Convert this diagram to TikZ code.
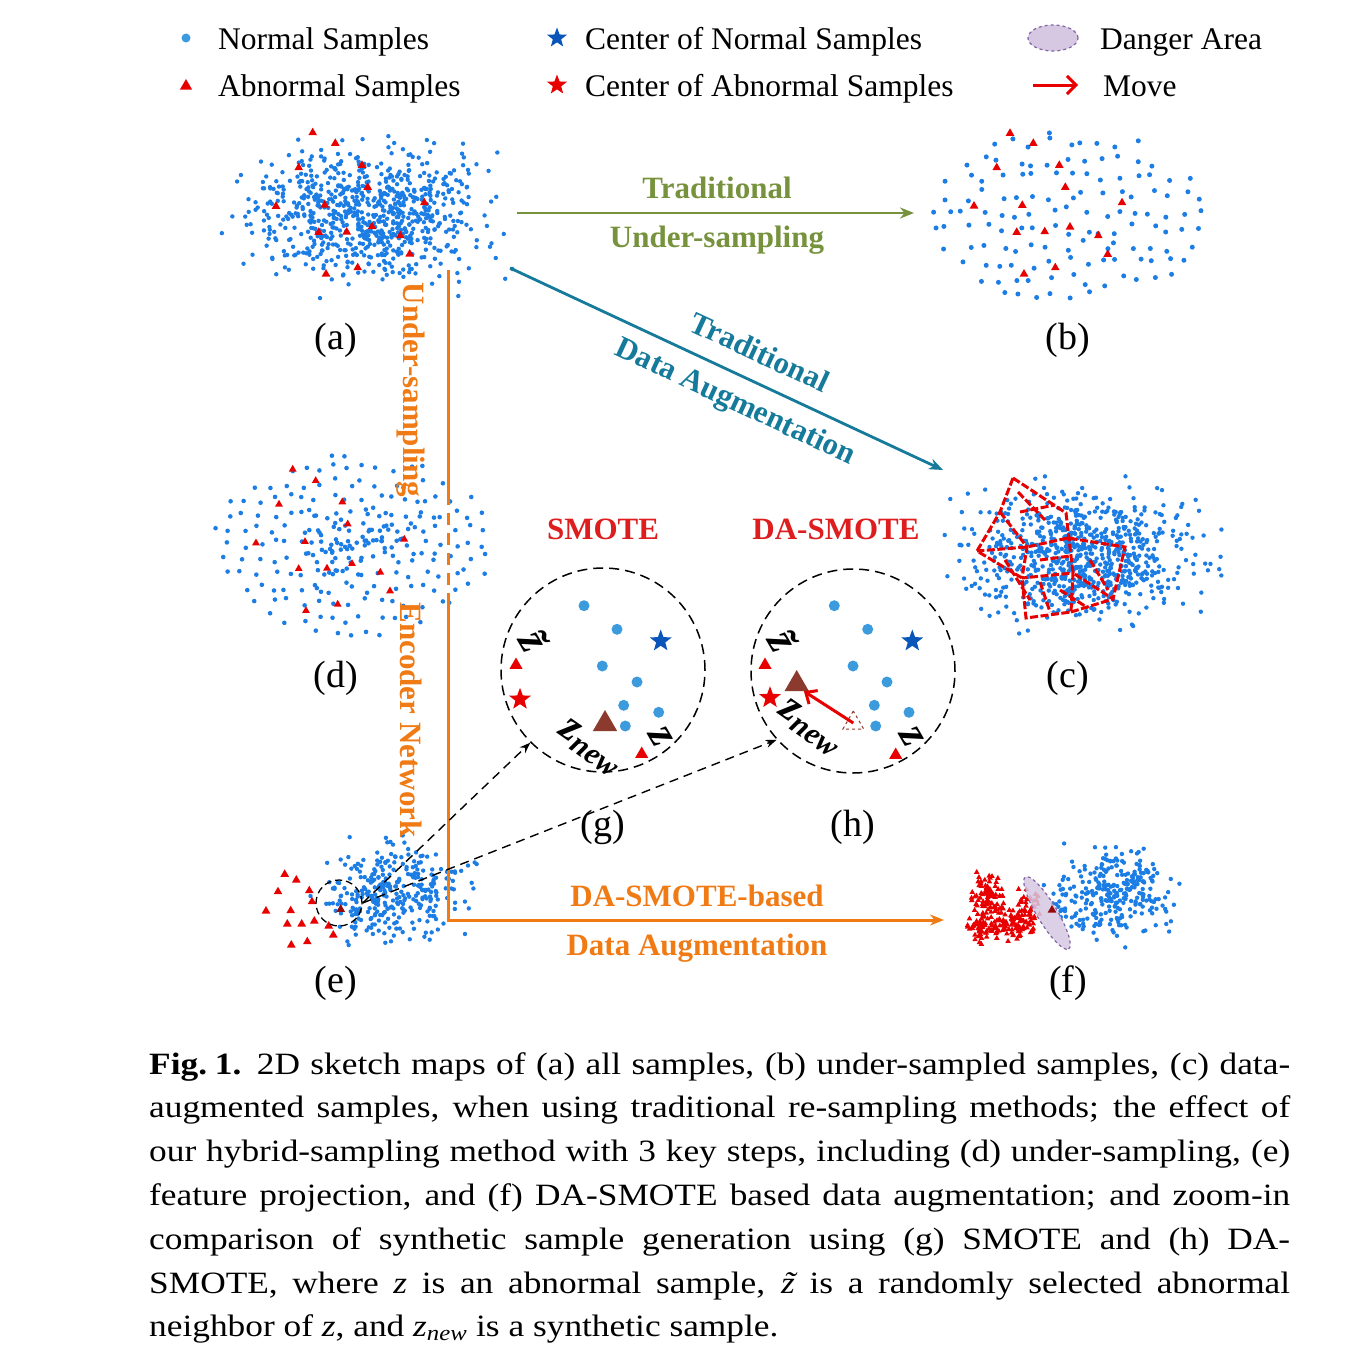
\documentclass[tikz,border=0pt]{standalone}
\usepackage{fontspec}
\setmainfont{Liberation Serif}
\newfontfamily\capfont[FakeStretch=1.14]{Liberation Serif}
\usetikzlibrary{arrows.meta,shapes.geometric}
\definecolor{ndot}{RGB}{28,125,228}
\definecolor{ldot}{RGB}{60,155,220}
\definecolor{nstar}{RGB}{10,85,185}
\definecolor{ared}{RGB}{232,0,0}
\definecolor{dred}{RGB}{150,10,10}
\definecolor{tred}{RGB}{222,30,30}
\definecolor{oliv}{RGB}{118,146,60}
\definecolor{tealc}{RGB}{22,122,155}
\definecolor{orng}{RGB}{240,122,20}
\definecolor{brwn}{RGB}{140,58,45}
\definecolor{dfill}{RGB}{214,200,226}
\definecolor{dline}{RGB}{128,100,165}
\pgfdeclarelayer{bg}\pgfsetlayers{bg,main}
\newcommand\tri[4]{\fill[#1] (#2,#3) ++(0,-#4) -- ++(0.866*#4,1.5*#4) -- ++(-1.732*#4,0) -- cycle;}
\newcommand\gcloud[7]{%
  \foreach \i in {1,...,#1}{%
    \pgfmathsetmacro\px{#2+#4*(rand+rand+rand)}%
    \pgfmathsetmacro\py{#3+#5*(rand+rand+rand)}%
    \fill[#7] (\px,\py) circle (#6pt);}}
\newcommand\tcloud[6]{%
  \foreach \i in {1,...,#1}{%
    \pgfmathsetmacro\px{#2+#4*(rand+rand)}%
    \pgfmathsetmacro\py{#3+#5*(rand+rand)}%
    \tri{ared}{\px}{\py}{#6}}}
% jittered grid inside an ellipse: #1 cx, #2 cy, #3 rx, #4 ry, #5 spacing, #6 jitter, #7 radius
\newcommand\jgrid[7]{%
  \pgfmathtruncatemacro\nx{2*#3/#5}%
  \pgfmathtruncatemacro\ny{2*#4/#5}%
  \foreach \c in {0,...,\nx}{\foreach \r in {0,...,\ny}{%
    \pgfmathsetmacro\px{#1-#3+\c*#5+#6*rand}%
    \pgfmathsetmacro\py{#2-#4+\r*#5+#6*rand}%
    \pgfmathtruncatemacro\inside{((\px-#1)/#3)^2+((\py-#2)/#4)^2<1}%
    \ifnum\inside=1 \fill[ndot] (\px,\py) circle (#7pt);\fi}}}
\newcommand\ztil{\textit{\rlap{\hspace{0.08em}˜}z}}
\tikzset{
  legendtxt/.style={anchor=base west, inner sep=0pt, font=\fontsize{31.5}{36}\selectfont},
  plabel/.style={inner sep=0pt, font=\fontsize{38}{44}\selectfont},
  blab/.style={inner sep=0pt, font=\bfseries\fontsize{31}{36}\selectfont},
  zlab/.style={inner sep=0pt, font=\bfseries\itshape\fontsize{44}{48}\selectfont},
  starshape/.style={star, star points=5, star point ratio=2.4, inner sep=0pt, draw=none},
  trishape/.style={regular polygon, regular polygon sides=3, inner sep=0pt, draw=none},
  zoomcirc/.style={circle, draw=black, dash pattern=on 10pt off 6pt, line width=1.5pt, minimum size=204pt, inner sep=0pt},
  bigdot/.style={circle, fill=ldot, inner sep=0pt, minimum size=11pt},
  dasharrow/.style={black, line width=1.4pt, dash pattern=on 9pt off 6pt, -{Stealth[length=11pt,width=8pt]}},
  netline/.style={ared, line width=3pt, dash pattern=on 8pt off 2.5pt},
  orline/.style={orng, line width=3pt},
}
\begin{document}
\begin{tikzpicture}[x=1pt,y=-1pt]
\useasboundingbox (0,0) rectangle (1365,1365);
\fill[white] (0,0) rectangle (1365,1365);
\pgfmathsetseed{42}

% ---------- legend ----------
\fill[ldot] (186,38) circle (4.5pt);
\node[legendtxt] (lg1) at (218,49) {Normal Samples};
\tri{ared}{186}{86}{7}
\node[legendtxt] (lg2) at (218,96) {Abnormal Samples};
\node[starshape, fill=nstar, minimum size=21pt] (lgs1) at (557,38) {};
\node[legendtxt] (lg3) at (585,49) {Center of Normal Samples};
\node[starshape, fill=ared, minimum size=21pt] (lgs2) at (557,85) {};
\node[legendtxt] (lg4) at (585,96) {Center of Abnormal Samples};
\node[ellipse, draw=dline, dashed, line width=1.2pt, fill=dfill, minimum width=50pt, minimum height=26pt] (lgdanger) at (1053,38) {};
\node[legendtxt] (lg5) at (1100,49) {Danger Area};
\coordinate (mvA) at (1033,85);
\coordinate (mvB) at (1078,85);
\draw[ared, line width=3pt, -{Straight Barb[length=9pt,width=18pt]}] (mvA) -- (mvB);
\node[legendtxt] (lg6) at (1103,96) {Move};

% ---------- (a) ----------
\gcloud{780}{372}{212}{55}{31}{2.2}{ndot}
\foreach \x/\y in {312.7/132.7,335.3/143.3,298.7/167.7,362/165.3,367.7/187.3,276/206.3,324.7/205,424.3/202.7,372/226.7,318.7/232.3,346.7/232,400.3/235.7,409.7/254,357.7/267.7,326/274}{\tri{ared}{\x}{\y}{5}}
\node[plabel] (la) at (336,340) {(a)};

% ---------- (b) ----------
\jgrid{1070}{215}{138}{88}{17}{6}{2.5}
\foreach \x/\y in {1010/133.3,1033.3/143.3,996.7/167.7,1059.3/165.3,1065.3/187.3,974/206,1022.3/205.3,1122/202.7,1016.7/232.3,1044.7/231.7,1070/227,1098.3/235.7,1107.7/254.3,1055.3/267.7,1024/274}{\tri{ared}{\x}{\y}{5}}
\node[plabel] (lb) at (1068,340) {(b)};

% ---------- (d) ----------
\jgrid{355}{545}{142}{92}{15}{5}{2.3}
\gcloud{70}{355}{545}{32}{20}{2.3}{ndot}
\foreach \x/\y in {292.7/469.3,315.7/480.7,279/504.3,342.3/502,347.7/524,256/543,305/541.7,404.3/539.3,298.7/568.7,327/568.3,352/563.7,380.3/572.3,390/591,337.7/604.3,306/610.7}{\tri{ared}{\x}{\y}{4.5}}
\node[plabel] (ld) at (336,678) {(d)};

% ---------- (c) ----------
\gcloud{780}{1085}{556}{52}{30}{2.2}{ndot}
\draw[netline] (1013,478) -- (1066,513) -- (1073,573) -- (1113,599) -- (1125,547) -- (1068,538) -- (1027,547) -- (977,551);
\draw[netline] (1013,478) -- (1000,512) -- (977,551) -- (1022,578) -- (1026,618) -- (1071,612) -- (1073,573) -- (1022,578);
\draw[netline] (1000,512) -- (1027,547) -- (1022,578);
\draw[netline] (1071,612) -- (1113,599);
\draw[netline] (1018,492) -- (1045,520);
\draw[netline] (1020,512) -- (1055,505);
\draw[netline] (1040,582) -- (1050,612);
\draw[netline] (1060,590) -- (1088,608);
\draw[netline] (1090,560) -- (1108,590);
\draw[netline] (1040,560) -- (1070,556);
\draw[netline] (1005,560) -- (1030,600);
\node[plabel] (lc) at (1068,678) {(c)};

% ---------- (e) ----------
\gcloud{320}{395}{890}{33}{23}{2.2}{ndot}
\foreach \x/\y in {284.7/874.3,296.3/880,278/891.7,309.3/890.7,312/901.7,266/911,290.7/910.7,287.3/924,301.7/924,314.3/921,328.7/926,333.3/935,307.3/941.7,291.3/945}{\tri{ared}{\x}{\y}{5}}
\tri{dred}{340.7}{909.3}{5}
\node[circle, draw=black, dash pattern=on 7pt off 4pt, line width=1.3pt, minimum size=46pt, inner sep=0pt] (ecirc) at (339,903) {};
\node[plabel] (le) at (336,983) {(e)};

% ---------- (f) ----------
\gcloud{290}{1112}{893}{27}{20}{2.2}{ndot}
\tcloud{80}{988}{895}{10}{12}{3.2}
\tcloud{90}{1012}{920}{13}{11}{3.2}
\tcloud{55}{982}{928}{9}{9}{3.2}
\tcloud{35}{1030}{910}{6}{11}{3.2}
\node[ellipse, draw=dline, dashed, line width=1.2pt, fill=dfill, fill opacity=0.85, minimum width=84pt, minimum height=20pt, rotate=-59] (danger) at (1047,913) {};
\tri{dred}{1052}{910}{5}
\node[plabel] (lf) at (1068,983) {(f)};

% ---------- arrows ----------
\coordinate (gA) at (517,213);
\coordinate (gB) at (914,213);
\draw[oliv, line width=2.8pt, -{Stealth[length=14pt,width=11pt]}] (gA) -- (gB);
\node[blab, text=oliv] (tu1) at (717,188) {Traditional};
\node[blab, text=oliv] (tu2) at (717,240) {Under-sampling};

\coordinate (tA) at (510,268);
\coordinate (tB) at (943,470);
\draw[tealc, line width=2.8pt, -{Stealth[length=14pt,width=11pt]}] (tA) -- (tB);
\node[blab, text=tealc, rotate=-25] (td1) at (760,352) {Traditional};
\node[blab, text=tealc, rotate=-25] (td2) at (735,403) {Data Augmentation};

\coordinate (oA) at (448,270);
\coordinate (oB) at (448,493);
\coordinate (oC) at (448,598);
\coordinate (oD) at (448,920);
\coordinate (oE) at (944,920);
\draw[orline] (oA) -- (oB);
\draw[orline, dash pattern=on 12pt off 8pt] (oB) -- (oC);
\draw[orline, -{Stealth[length=14pt,width=11pt]}] (oC) -- (oD) -- (oE);
\node[blab, text=orng, rotate=-90] (ou) at (411,390) {Under-sampling};
\node[blab, text=orng, rotate=-90] (oen) at (411,720) {Encoder Network};
\node[blab, text=orng] (od1) at (697,896) {DA-SMOTE-based};
\node[blab, text=orng] (od2) at (697,948) {Data Augmentation};

% ---------- (g) SMOTE ----------
\node[blab, text=tred] (tsm) at (603,529) {SMOTE};
\node[zoomcirc] (gcirc) at (603,670) {};
\foreach \x/\y [count=\k] in {584/605.7,617/629.3,602.3/666,637/682,623.7/705.3,658.7/712.3,625.3/726}{\node[bigdot] (gd\k) at (\x,\y) {};}
\node[starshape, fill=nstar, minimum size=23pt] (gsn) at (660.7,641) {};
\node[starshape, fill=ared, minimum size=23pt] (gsa) at (520,699.3) {};
\node[trishape, fill=ared, minimum size=15pt] (gzt) at (516,665) {};
\node[trishape, fill=ared, minimum size=15pt] (gz) at (641.7,754) {};
\node[trishape, fill=brwn, minimum size=28pt] (gnew) at (605,724) {};
\begin{pgfonlayer}{bg}
\draw[black, line width=1.3pt] (gzt.center) -- (gz.center);
\end{pgfonlayer}
\node[zlab, rotate=-60] (gzl) at (534,641) {z̃};
\node[zlab, rotate=-60] (gzzl) at (661,737) {z};
\node[zlab, rotate=-35] (gznl) at (590,748) {z\textsubscript{new}};
\node[plabel] (lg) at (603,827) {(g)};

% ---------- (h) DA-SMOTE ----------
\node[blab, text=tred] (tda) at (836,529) {DA-SMOTE};
\node[zoomcirc] (hcirc) at (853,671) {};
\foreach \x/\y [count=\k] in {834.3/605.7,867.7/629.3,853/666,887/682,874.3/705.3,909/712.3,875.7/726}{\node[bigdot] (hd\k) at (\x,\y) {};}
\node[starshape, fill=nstar, minimum size=23pt] (hsn) at (912.3,641) {};
\node[starshape, fill=ared, minimum size=23pt] (hsa) at (770,697.7) {};
\node[trishape, fill=ared, minimum size=15pt] (hzt) at (765,665) {};
\node[trishape, fill=ared, minimum size=15pt] (hz) at (895.7,755) {};
\node[trishape, draw=brwn, dashed, line width=1pt, minimum size=24pt] (hold) at (853.3,723) {};
\node[trishape, fill=brwn, minimum size=28pt] (hnew) at (796.7,684) {};
\begin{pgfonlayer}{bg}
\draw[black, line width=1.3pt] (hzt.center) -- (hz.center);
\draw[black, line width=1.2pt, dash pattern=on 5pt off 3pt] (hsa.center) -- (hsn.center);
\end{pgfonlayer}
\draw[ared, line width=3pt, -{Straight Barb[length=9pt,width=16pt]}] (hold.center) -- (hnew.south east);
\node[zlab, rotate=-60] (hzl) at (783,641) {z̃};
\node[zlab, rotate=-60] (hzzl) at (912,737) {z};
\node[zlab, rotate=-35] (hznl) at (810,728) {z\textsubscript{new}};
\node[plabel] (lh) at (853,827) {(h)};

% ---------- zoom connectors ----------
\draw[dasharrow] (ecirc.east) -- (gcirc.225);
\draw[dasharrow] (ecirc.east) -- (hcirc.222);

% ---------- caption ----------
\node[anchor=north west, inner sep=0pt, text width=1141pt, align=justify, font=\capfont\fontsize{31}{43.8}\selectfont] (caption) at (149,1052) {\textbf{Fig.\hspace{0.25em}1.}\hspace{0.5em}2D sketch maps of (a) all samples, (b) under-sampled samples, (c) data-\linebreak augmented samples, when using traditional re-sampling methods; the effect of\linebreak our hybrid-sampling method with 3 key steps, including (d) under-sampling, (e)\linebreak feature projection, and (f) DA-SMOTE based data augmentation; and zoom-in\linebreak comparison of synthetic sample generation using (g) SMOTE and (h) DA-\linebreak SMOTE, where \textit{z} is an abnormal sample, \ztil{} is a randomly selected abnormal\linebreak neighbor of \textit{z}, and \textit{z}\textsubscript{\textit{new}} is a synthetic sample.};
\end{tikzpicture}
\end{document}
